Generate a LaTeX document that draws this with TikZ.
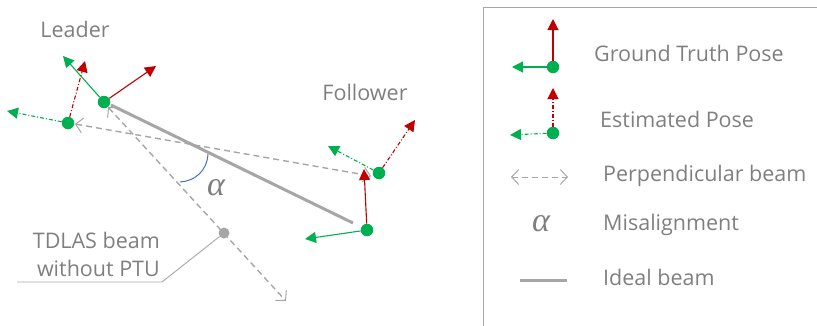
\documentclass[tikz,border=0pt]{standalone}
\usepackage{fontspec}
\setmainfont{Open Sans}
\newfontfamily\alphafont{Liberation Serif}
\usetikzlibrary{arrows.meta}
\definecolor{gt}{HTML}{00B050}
\definecolor{rd}{HTML}{C00000}
\definecolor{lgray}{HTML}{A6A6A6}
\definecolor{tgray}{HTML}{7F7F7F}
\definecolor{arcblue}{HTML}{4472C4}
\tikzset{
  dot/.style={circle,fill=gt,inner sep=0pt,minimum size=12.5pt},
  gdot/.style={circle,fill=lgray,inner sep=0pt,minimum size=11pt},
  gtarrow/.style={-{Triangle[length=11pt,width=11pt]},line width=1.1pt},
  estarrow/.style={-{Triangle[length=11pt,width=11pt]},line width=1.1pt,dash pattern=on 4pt off 2pt on 1pt off 2pt},
  perp/.style={{Straight Barb[length=7pt,width=15pt,line width=1pt]}-{Straight Barb[length=7pt,width=15pt,line width=1pt]},lgray,line width=1.4pt,dash pattern=on 6pt off 4pt},
  ideal/.style={lgray,line width=3pt},
  lbl/.style={text=tgray,font=\fontsize{21.5}{26}\selectfont,inner sep=0pt},
  alph/.style={text=tgray,inner sep=0pt,font=\alphafont\itshape\fontsize{34}{34}\selectfont},
}
\begin{document}
\begin{tikzpicture}[x=1pt,y=-1pt]
\useasboundingbox (0,0) rectangle (817,325);
% legend frame
\draw[lgray,line width=1pt] (830,7) -- (483,7) -- (483,335);

% --- main diagram: gray beams
\coordinate (idA) at (111,105);
\coordinate (idB) at (353,223);
\draw[ideal] (idA) -- (idB);
\coordinate (pA) at (75,124);
\coordinate (pB) at (371,176);
\draw[perp] (pA) -- (pB);
\coordinate (tA) at (108,107);
\coordinate (tB) at (286,301);
\node[gdot] (td) at (224,233) {};
\draw[perp] (tA) -- (tB);
\coordinate (lk) at (162,282);
\coordinate (lk2) at (17,282);
\draw[lgray,line width=0.9pt] (td) -- (lk) -- (lk2);
\node[lbl,anchor=east] (tdl1) at (160,240) {TDLAS beam};
\node[lbl,anchor=east] (tdl2) at (160,268) {without PTU};

% alpha arc
\coordinate (a1) at (208,154);
\coordinate (a2) at (180,182);
\draw[arcblue,line width=1pt] (a1) .. controls (207,171) and (195,181) .. (a2);
\node[alph] (al) at (216,188) {α};

% leader
\node[lbl] (leader) at (75,29) {Leader};
\node[dot] (lgt) at (104,102) {};
\node[dot] (lest) at (68,123) {};
\coordinate (lgtg) at (63,56);
\coordinate (lgtr) at (156,66);
\coordinate (lestg) at (7,111);
\coordinate (lestr) at (85,61);
\draw[gtarrow,gt] (lgt) -- (lgtg);
\draw[gtarrow,rd] (lgt) -- (lgtr);
\draw[estarrow,gt] (lest) -- (lestg);
\draw[estarrow,rd] (lest) -- (lestr);

% follower
\node[lbl] (follower) at (365,92) {Follower};
\node[dot] (fest) at (379,173) {};
\node[dot] (fgt) at (367,230) {};
\coordinate (festg) at (328,146);
\coordinate (festr) at (415,120);
\coordinate (fgtr) at (364,169);
\coordinate (fgtg) at (305,239);
\draw[estarrow,gt] (fest) -- (festg);
\draw[estarrow,rd] (fest) -- (festr);
\draw[gtarrow,rd] (fgt) -- (fgtr);
\draw[gtarrow,gt] (fgt) -- (fgtg);

% --- legend
\node[dot] (lg1) at (553,67) {};
\coordinate (lg1r) at (553,19);
\coordinate (lg1g) at (512,67);
\draw[gtarrow,rd] (lg1) -- (lg1r);
\draw[gtarrow,gt] (lg1) -- (lg1g);
\node[lbl,anchor=west] (t1) at (594,53) {Ground Truth Pose};

\node[dot] (lg2) at (553,133) {};
\coordinate (lg2r) at (553,88);
\coordinate (lg2g) at (510,135);
\draw[estarrow,rd] (lg2) -- (lg2r);
\draw[estarrow,gt] (lg2) -- (lg2g);
\node[lbl,anchor=west] (t2) at (600,119) {Estimated Pose};

\coordinate (pl1) at (511,177);
\coordinate (pl2) at (568,177);
\draw[perp,line width=1pt] (pl1) -- (pl2);
\node[lbl,anchor=west] (t3) at (603,176) {Perpendicular beam};

\node[alph] (la) at (541,224) {α};
\node[lbl,anchor=west] (t4) at (603,225) {Misalignment};

\coordinate (il1) at (520,280);
\coordinate (il2) at (567,280);
\draw[ideal] (il1) -- (il2);
\node[lbl,anchor=west] (t5) at (603,277) {Ideal beam};
\end{tikzpicture}
\end{document}
